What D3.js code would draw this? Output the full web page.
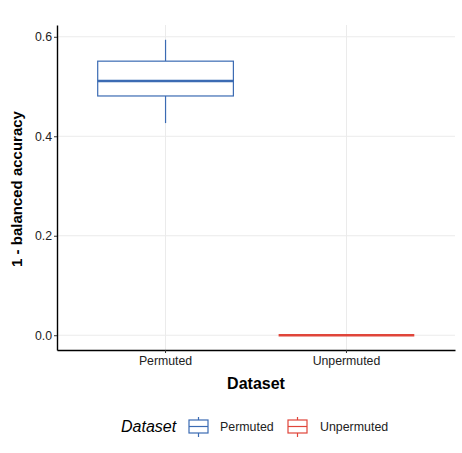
<!DOCTYPE html>
<html>
<head>
  <style>
    body { margin: 0; background: #fff; }
    svg text { font-family: "Liberation Sans", Arial, sans-serif; }
  </style>
  <script src="https://d3js.org/d3.v7.min.js"></script>
</head>
<body>
  <svg id="chart" width="462" height="453"></svg>
  <script>
    // data
    const datasets = ['Permuted', 'Unpermuted'];
    const lowWhisker = [0.4265, 0];
    const q1 = [0.481, 0];
    const medians = [0.511, 0];
    const q3 = [0.551, 0];
    const highWhisker = [0.594, 0];
    const colors = ['#3b6bb3', '#e0453a'];
    const yTicks = [0, 0.2, 0.4, 0.6];

    const svg = d3.select('#chart');
    const pLeft = 57, pRight = 455, pTop = 25, pBottom = 350;

    const x = d3.scaleBand().domain(datasets).range([pLeft, pRight])
      .paddingOuter(0.1).paddingInner(0); // centre +-0.6 band like ggplot
    const y = d3.scaleLinear().domain([-0.0297, 0.6237]).range([pBottom, pTop]);

    // grid
    const grid = svg.append('g');
    grid.selectAll('.gy').data(yTicks).enter().append('line')
      .attr('x1', pLeft).attr('x2', pRight)
      .attr('y1', d => y(d)).attr('y2', d => y(d))
      .attr('stroke', '#ebebeb').attr('stroke-width', 1);
    grid.selectAll('.gx').data(datasets).enter().append('line')
      .attr('x1', d => x(d) + x.bandwidth() / 2).attr('x2', d => x(d) + x.bandwidth() / 2)
      .attr('y1', pTop).attr('y2', pBottom)
      .attr('stroke', '#ebebeb').attr('stroke-width', 1);

    // boxes
    const bw = x.bandwidth() * 0.75;
    const boxes = svg.append('g').selectAll('g').data(datasets).enter().append('g');
    boxes.each(function(d, i) {
      const g = d3.select(this);
      const cx = x(d) + x.bandwidth() / 2;
      const c = colors[i];
      g.append('line').attr('x1', cx).attr('x2', cx)
        .attr('y1', y(q3[i])).attr('y2', y(highWhisker[i]))
        .attr('stroke', c).attr('stroke-width', 1.2);
      g.append('line').attr('x1', cx).attr('x2', cx)
        .attr('y1', y(q1[i])).attr('y2', y(lowWhisker[i]))
        .attr('stroke', c).attr('stroke-width', 1.2);
      g.append('rect').attr('x', cx - bw / 2).attr('width', bw)
        .attr('y', y(q3[i])).attr('height', Math.max(0, y(q1[i]) - y(q3[i])))
        .attr('fill', 'white').attr('stroke', c).attr('stroke-width', 1.2);
      g.append('line').attr('x1', cx - bw / 2).attr('x2', cx + bw / 2)
        .attr('y1', y(medians[i])).attr('y2', y(medians[i]))
        .attr('stroke', c).attr('stroke-width', 2.6);
    });

    // axes
    const yAxis = svg.append('g').attr('transform', `translate(${pLeft},0)`)
      .call(d3.axisLeft(y).tickValues(yTicks).tickFormat(d3.format('.1f')).tickSize(3).tickSizeOuter(0));
    const xAxis = svg.append('g').attr('transform', `translate(0,${pBottom})`)
      .call(d3.axisBottom(x).tickSize(3).tickSizeOuter(0));
    [yAxis, xAxis].forEach(a => {
      a.select('.domain').attr('stroke', '#000').attr('stroke-width', 1.4);
      a.selectAll('.tick line').attr('stroke', '#333');
      a.selectAll('.tick text').attr('fill', '#222').style('font-size', '12.3px');
    });
    yAxis.selectAll('.tick text').attr('x', -5);
    xAxis.selectAll('.tick text').attr('y', 6);

    // titles
    svg.append('text').attr('x', (pLeft + pRight) / 2).attr('y', 389)
      .attr('text-anchor', 'middle').style('font-size', '16px').style('font-weight', 'bold')
      .text('Dataset');
    svg.append('text').attr('transform', `translate(22,189) rotate(-90)`)
      .attr('text-anchor', 'middle').style('font-size', '15px').style('font-weight', 'bold')
      .text('1 - balanced accuracy');

    // legend
    const lg = svg.append('g');
    lg.append('text').attr('x', 121).attr('y', 432).style('font-size', '16px')
      .style('font-style', 'italic').text('Dataset');
    const keyX = [188, 287], labX = [220, 320];
    datasets.forEach((d, i) => {
      const kx = keyX[i], c = colors[i];
      lg.append('line').attr('x1', kx + 10.5).attr('x2', kx + 10.5).attr('y1', 417).attr('y2', 437)
        .attr('stroke', c).attr('stroke-width', 1.2);
      lg.append('rect').attr('x', kx + 1).attr('y', 420).attr('width', 19).attr('height', 13)
        .attr('fill', 'white').attr('stroke', c).attr('stroke-width', 1.2);
      lg.append('line').attr('x1', kx + 1).attr('x2', kx + 20).attr('y1', 426.5).attr('y2', 426.5)
        .attr('stroke', c).attr('stroke-width', 1.2);
      lg.append('text').attr('x', labX[i]).attr('y', 431).style('font-size', '12.4px')
        .attr('fill', '#222').text(d);
    });
  </script>
</body>
</html>
